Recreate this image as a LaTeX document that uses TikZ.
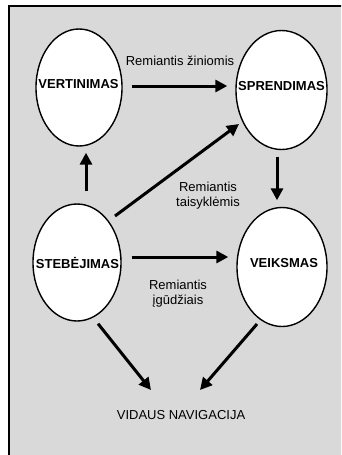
\documentclass[tikz,border=0pt]{standalone}
\usepackage{fontspec}
\setmainfont{Liberation Sans}
\usetikzlibrary{shapes.geometric,arrows.meta,calc}
\definecolor{bggray}{RGB}{217,217,217}
\begin{document}
\begin{tikzpicture}[x=1pt,y=-1pt,
  ell/.style={ellipse,draw=black,line width=1.4pt,fill=white,inner sep=0pt},
  boldlbl/.style={font=\fontsize{13}{15}\selectfont\bfseries,inner sep=0pt},
  txt/.style={font=\fontsize{13}{15}\selectfont,align=center,inner sep=0pt},
  arr/.style={line width=3pt,-{Triangle[length=12pt,width=12pt]}}]
\useasboundingbox (0,0) rectangle (341,455);
\begin{scope}
\clip (0,0) rectangle (341,455);
\draw[line width=2pt,fill=bggray] (8.5,5.5) rectangle (370,480);
\end{scope}
% ellipses
\node[ell,minimum width=86pt,minimum height=117pt] (v) at (79,87.5) {};
\node[ell,minimum width=91pt,minimum height=119pt] (s) at (281.5,90) {};
\node[ell,minimum width=88pt,minimum height=117pt] (st) at (77,262.5) {};
\node[ell,minimum width=90pt,minimum height=119pt] (ve) at (282,267) {};
% bold labels
\node[boldlbl] (vt) at (78.5,84) {VERTINIMAS};
\node[boldlbl] (sprt) at (281.5,86) {SPRENDIMAS};
\node[boldlbl] (stt) at (77.5,262.7) {STEBĖJIMAS};
\node[boldlbl] (vet) at (284,263) {VEIKSMAS};
% texts
\node[txt] (t1) at (180,61) {Remiantis žiniomis};
\node[txt] (t2) at (208,196) {Remiantis\\taisyklėmis};
\node[txt] (t3) at (178,294) {Remiantis\\įgūdžiais};
\node[txt] (n) at (181,415) {VIDAUS NAVIGACIJA};
% arrows
\draw[arr] ([shift={(9,-1.5)}]v.east) -- ([shift={(-8,-4)}]s.west);
\draw[arr] ([shift={(9,-12)}]st.north) -- ([shift={(7,6)}]v.south);
\draw[arr] ([shift={(38,-46.5)}]st.center) -- ([shift={(-42.5,34)}]s.center);
\draw[arr] ([shift={(-4.5,6.5)}]s.south) -- ([shift={(-5,-6.5)}]ve.north);
\draw[arr] ([shift={(10,-5.5)}]st.east) -- ([shift={(-8,-10)}]ve.west);
\draw[arr] ([shift={(21,2)}]st.south) -- ([shift={(-30,-25)}]n.center);
\draw[arr] ([shift={(-25,57)}]ve.center) -- ([shift={(19,-25)}]n.center);
\end{tikzpicture}
\end{document}
